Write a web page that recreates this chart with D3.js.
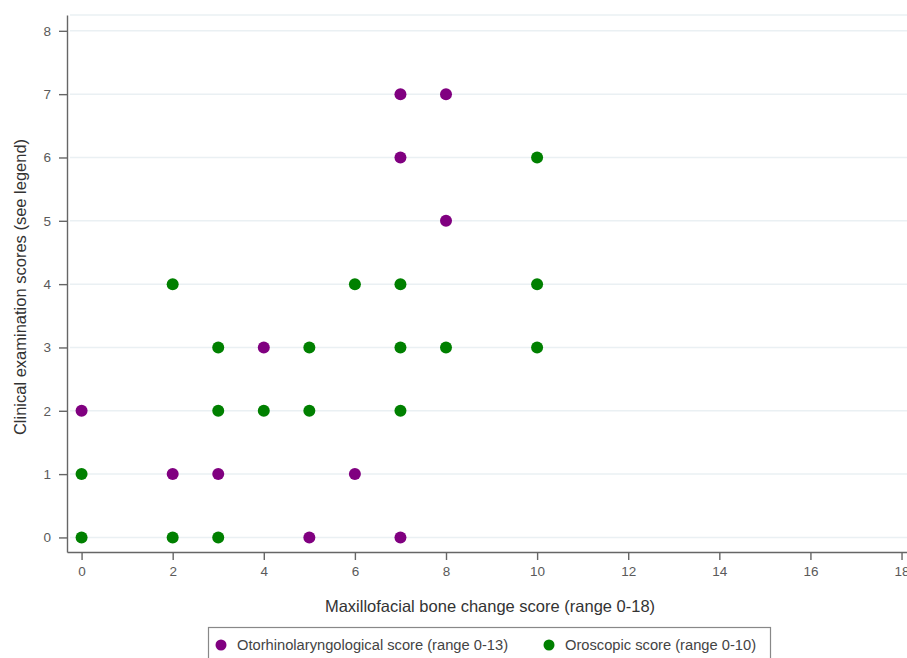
<!DOCTYPE html>
<meta charset="utf-8">
<style>
body { margin: 0; background: #fff; }
svg { font-family: "Liberation Sans", Arial, sans-serif; }
.grid line { stroke: #eaf0f3; stroke-width: 1.5px; }
.axis path, .axis line { stroke: #666; stroke-width: 1.4px; }
</style>
<body>
<script src="https://d3js.org/d3.v7.min.js"></script>
<script>
// x = maxillofacial bone change score, y = clinical examination score
var entX = [0, 2, 3, 4, 5, 6, 7, 7, 7, 8, 8];
var entY = [2, 1, 1, 3, 0, 1, 0, 6, 7, 7, 5];

var oroX = [0, 0, 2, 2, 3, 3, 3, 4, 5, 5, 6, 7, 7, 7, 8, 10, 10, 10];
var oroY = [0, 1, 0, 4, 0, 2, 3, 2, 2, 3, 4, 2, 3, 4, 3, 3, 4, 6];

var xTicks = [0, 2, 4, 6, 8, 10, 12, 14, 16, 18];
var yTicks = [0, 1, 2, 3, 4, 5, 6, 7, 8];

var seriesNames = ["Otorhinolaryngological score (range 0-13)", "Oroscopic score (range 0-10)"];
var seriesColors = ["#800080", "#008000"];

var W = 907, H = 658;
var margin = {top: 15, right: 0, bottom: 106, left: 67};

var svg = d3.select("body").append("svg")
    .attr("width", W)
    .attr("height", H);

var x = d3.scaleLinear().domain([-0.32, 18.12]).range([margin.left, W - margin.right]);
var y = d3.scaleLinear().domain([-0.23, 8.25]).range([H - margin.bottom, margin.top]);

// gridlines
svg.append("g").attr("class", "grid")
  .selectAll("line")
  .data(yTicks.concat([8.25]))
  .enter().append("line")
    .attr("x1", margin.left + 3)
    .attr("x2", W)
    .attr("y1", function(d) { return y(d); })
    .attr("y2", function(d) { return y(d); });

// axes
var xAxis = svg.append("g")
    .attr("class", "axis")
    .attr("transform", "translate(0," + (H - margin.bottom) + ")")
    .call(d3.axisBottom(x).tickValues(xTicks).tickSize(8).tickSizeOuter(0).tickPadding(6));

var yAxis = svg.append("g")
    .attr("class", "axis")
    .attr("transform", "translate(" + margin.left + ",0)")
    .call(d3.axisLeft(y).tickValues(yTicks).tickSize(8).tickSizeOuter(0).tickPadding(8));

[xAxis, yAxis].forEach(function(g) {
  g.attr("font-family", null);
  g.selectAll("text").style("font-size", "13.5px").style("fill", "#5a5a5a");
});

// axis titles
svg.append("text")
    .attr("x", 490)
    .attr("y", 612)
    .attr("text-anchor", "middle")
    .style("font-size", "16.5px")
    .style("fill", "#333")
    .text("Maxillofacial bone change score (range 0-18)");

svg.append("text")
    .attr("transform", "translate(26," + 287 + ") rotate(-90)")
    .attr("text-anchor", "middle")
    .style("font-size", "16.5px")
    .style("fill", "#333")
    .text("Clinical examination scores (see legend)");

// points
function plot(xs, ys, color) {
  svg.append("g").selectAll("circle")
    .data(xs.map(function(v, i) { return {x: v, y: ys[i]}; }))
    .enter().append("circle")
      .attr("cx", function(d) { return x(d.x); })
      .attr("cy", function(d) { return y(d.y); })
      .attr("r", 6)
      .style("fill", color);
}
plot(entX, entY, seriesColors[0]);
plot(oroX, oroY, seriesColors[1]);

// legend
var lg = svg.append("g");
lg.append("rect")
    .attr("x", 208.5).attr("y", 627.5)
    .attr("width", 562).attr("height", 40)
    .style("fill", "#fff")
    .style("stroke", "#888")
    .style("stroke-width", 1.2);

var legX = [221, 549];
seriesNames.forEach(function(name, i) {
  lg.append("circle")
    .attr("cx", legX[i]).attr("cy", 645)
    .attr("r", 5.5)
    .style("fill", seriesColors[i]);
  lg.append("text")
    .attr("x", legX[i] + 16).attr("y", 650)
    .style("font-size", "14.7px")
    .style("fill", "#444")
    .text(name);
});
</script>
</body>
